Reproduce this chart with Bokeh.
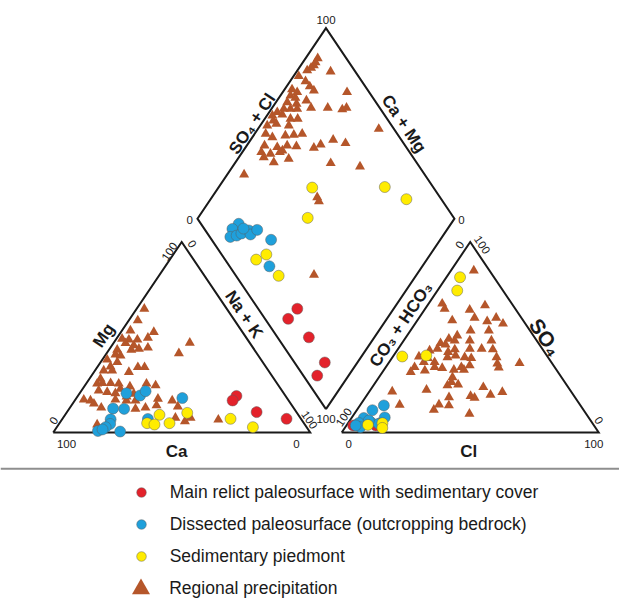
import math
from bokeh.plotting import figure
from bokeh.models import Range1d, Span, Legend, LegendItem
from bokeh.core.properties import value
from bokeh.embed import file_html
from bokeh.resources import INLINE

# ---------------- data (percent of meq) ----------------
# Regional precipitation
reg_cat_mg = [64.9, 58.8, 53.5, 52.7, 49.2, 48.7, 48.7, 49.7, 46.9, 45.7, 43.4, 43.9, 44.5, 47.1, 41.6,
              43.4, 40.9, 40.4, 38.2, 36.9, 34.6, 32.5, 32.5, 31.7, 34.3, 34.3, 28.2, 25.6, 25.9, 25.9,
              25.6, 22.9, 24.1, 25.6, 24.7, 22.0, 21.2, 20.6, 18.9, 20.3, 17.2, 16.8, 15.1, 13.0, 17.2,
              16.8, 16.8, 17.7, 13.0, 16.8, 13.6, 12.4, 4.2, 14.2, 7.7, 5.9, 7.7, 6.7]
reg_cat_nak = [3.0, 3.5, 3.3, 12.8, 2.2, 5.1, 8.4, 12.0, 4.7, 8.5, 8.7, 11.4, 14.6, 29.6, 28.1,
               3.2, 3.8, 6.0, 1.9, 6.5, 5.0, 3.4, 6.7, 13.6, 15.8, 18.4, 4.3, 4.3, 6.2, 9.4,
               12.7, 14.7, 17.8, 23.5, 27.5, 6.7, 10.4, 13.9, 19.1, 21.2, 3.3, 6.1, 8.3, 12.2, 15.6,
               20.1, 23.6, 31.9, 29.4, 37.9, 41.7, 25.8, 15.0, 33.1, 43.7, 48.3, 49.6, 60.9]
reg_dia_so4cl = [88.9, 87.0, 85.5, 83.8, 81.6, 90.4, 76.8, 78.1, 78.4, 78.9, 70.7, 72.0, 68.5, 69.8, 91.4,
                 65.5, 68.7, 73.4, 62.4, 65.0, 67.6, 73.3, 79.8, 85.0, 87.1, 59.0, 56.2, 60.3, 55.3, 62.4,
                 65.2, 51.6, 55.6, 60.0, 48.8, 50.5, 56.0, 59.5, 63.0, 94.1, 45.3, 49.8, 50.9, 54.1, 57.5,
                 63.9, 67.4, 73.5, 77.4, 42.3, 45.4, 41.9, 49.5, 51.2, 44.5, 66.4, 76.9, 29.7, 52.2, 51.8,
                 30.6]
reg_dia_nak = [4.7, 4.9, 5.1, 4.6, 3.8, 13.2, 2.0, 6.0, 9.0, 11.7, 2.9, 5.6, 3.9, 6.4, 25.0,
               4.4, 8.4, 11.4, 4.8, 7.4, 10.0, 15.1, 21.6, 27.7, 28.9, 3.1, 2.1, 5.7, 3.8, 10.0,
               12.8, 2.7, 5.8, 11.1, 4.3, 7.8, 12.4, 15.5, 18.5, 47.0, 6.9, 12.3, 15.2, 15.7, 19.5,
               26.7, 28.5, 32.1, 37.8, 7.4, 11.4, 9.7, 14.6, 19.8, 14.9, 37.3, 49.6, 6.6, 41.0, 42.7,
               60.1]
reg_an_so4 = [85.0, 67.6, 64.9, 64.4, 66.7, 60.2, 58.8, 58.4, 60.2, 57.1, 53.5, 53.5, 50.9, 49.2, 48.3,
              46.9, 46.2, 48.3, 48.3, 43.9, 43.0, 42.2, 43.6, 43.9, 43.9, 43.6, 39.9, 39.0, 39.5, 40.4,
              39.5, 39.0, 39.5, 36.9, 34.3, 36.9, 34.3, 33.8, 34.3, 35.2, 36.1, 34.0, 36.4, 31.7, 32.5,
              32.9, 32.9, 29.0, 26.4, 24.7, 25.2, 23.8, 21.5, 22.4, 18.5, 19.1, 18.2, 19.8, 21.2, 14.5,
              14.7, 14.2, 9.8, 11.9]
reg_an_cl = [8.9, 5.3, 7.6, 17.6, 22.4, 21.6, 13.6, 27.4, 30.0, 34.2, 23.4, 30.5, 19.5, 17.1, 19.8,
             15.0, 17.3, 25.7, 34.1, 15.3, 12.7, 20.3, 22.2, 27.9, 32.5, 37.0, 10.1, 14.0, 21.4, 24.1,
             28.1, 30.9, 40.5, 13.5, 11.2, 17.7, 19.0, 22.2, 29.4, 32.2, 42.5, 44.1, 51.0, 11.0, 16.1,
             27.2, 31.1, 28.6, 29.5, 28.8, 32.7, 43.2, 8.9, 21.8, 32.5, 40.6, 42.6, 48.0, 51.9, 15.3,
             30.5, 34.6, 44.8, 29.9]

# Main relict paleosurface with sedimentary cover
red_cat_mg = [19.2, 16.8, 10.7, 7.2]
red_cat_nak = [61.7, 61.4, 73.8, 87.2]
red_dia_so4cl = [15.2, 9.0, 12.2, 11.8, 5.4]
red_dia_nak = [62.5, 61.6, 74.5, 87.3, 87.8]
red_an_so4 = [3.7, 3.7, 4.9]
red_an_cl = [2.6, 11.4, 12.7]

# Dissected paleosurface (outcropping bedrock)
blue_cat_mg = [20.6, 19.4, 21.7, 18.1, 12.6, 12.4, 6.9, 7.1, 4.5, 2.8, 0.8, 0.5, 1.6]
blue_cat_nak = [18.2, 24.1, 25.1, 41.2, 17.0, 21.4, 18.9, 33.3, 19.9, 19.0, 17.0, 25.8, 18.4]
blue_dia_so4cl = [14.7, 10.9, 8.0, 10.8, 13.2, 16.9, 16.5, 20.3, 23.1, 15.5, 15.3]
blue_dia_nak = [17.4, 16.3, 17.6, 19.7, 21.0, 23.1, 24.8, 26.2, 34.2, 40.5, 20.5]
blue_an_so4 = [14.2, 11.7, 7.9, 7.6, 5.0, 5.5, 4.6, 2.8, 6.3, 3.7]
blue_an_cl = [9.3, 6.1, 12.8, 4.8, 4.2, 8.5, 12.1, 5.9, 7.4, 3.6]

# Sedimentary piedmont
yel_cat_mg = [9.3, 10.3, 4.9, 4.2, 4.9, 7.2, 2.8]
yel_cat_nak = [36.7, 47.0, 34.1, 37.3, 42.8, 65.4, 76.3]
yel_dia_so4cl = [52.8, 81.2, 86.4, 43.1, 12.1, 17.4, 16.6]
yel_dia_nak = [36.5, 64.6, 76.2, 42.7, 33.6, 36.2, 46.6]
yel_an_so4 = [81.5, 74.5, 39.9, 40.4, 4.0, 4.9, 2.4]
yel_an_cl = [5.3, 7.7, 3.6, 12.7, 8.2, 13.4, 14.6]

legend_labels = ["Main relict paleosurface with sedimentary cover",
                 "Dissected paleosurface (outcropping bedrock)",
                 "Sedimentary piedmont",
                 "Regional precipitation"]

# ---------------- geometry ----------------
H = math.sqrt(3) / 2
G = 0.1226                      # gap between triangles (in side units)
X0_PX, BASE_PX, SIDE_PX, HEIGHT_PX = 52.7, 432.0, 257.0, 190.5
W, HT = 619, 600
ORG = 0                         # page offset of the figure


def to_data(px, py):
    return (px - X0_PX) / SIDE_PX, (BASE_PX - py) * H / HEIGHT_PX


x_lo, y_hi = to_data(ORG, ORG)
x_hi, y_lo = to_data(ORG + W, ORG + HT)

LX, LY = 0.5 + G / 2, H + G * H   # diamond left vertex


def cation_xy(mg, nak):
    return [n / 100 + 0.5 * m / 100 for m, n in zip(mg, nak)], [H * m / 100 for m in mg]


def anion_xy(so4, cl):
    return [1 + G + c / 100 + 0.5 * s / 100 for s, c in zip(so4, cl)], [H * s / 100 for s in so4]


def diamond_xy(s4c, nak):
    xs = [LX + 0.5 * s / 100 + 0.5 * n / 100 for s, n in zip(s4c, nak)]
    ys = [LY + H * s / 100 - H * n / 100 for s, n in zip(s4c, nak)]
    return xs, ys


def all_xy(cmg, cnak, ds, dn, aso4, acl):
    x1, y1 = cation_xy(cmg, cnak)
    x2, y2 = diamond_xy(ds, dn)
    x3, y3 = anion_xy(aso4, acl)
    return x1 + x2 + x3, y1 + y2 + y3


p = figure(width=W, height=HT, x_range=Range1d(x_lo, x_hi), y_range=Range1d(y_lo, y_hi),
           output_backend="svg", toolbar_location=None, min_border=0,
           x_axis_type=None, y_axis_type=None)
p.outline_line_color = None
p.background_fill_color = "white"
p.border_fill_color = "white"

FONT_NAME = "Liberation Sans"
FONT = value(FONT_NAME)
LINE = dict(line_color="#1a1a1a", line_width=2, line_join="miter")

# frames
p.line([0, 1, 0.5, 0], [0, 0, H, 0], **LINE)
p.line([1 + G, 2 + G, 1.5 + G, 1 + G], [0, 0, H, 0], **LINE)
p.line([1 + G / 2, 1.5 + G / 2, 1 + G / 2, 0.5 + G / 2, 1 + G / 2],
       [G * H, H + G * H, 2 * H + G * H, H + G * H, G * H], **LINE)

# separator
sep_y = to_data(0, 468.3)[1]
p.add_layout(Span(location=sep_y, dimension="width", line_color="#8e8e8e", line_width=2))

# points
CIRC = dict(marker="circle", size=11, line_color="#5a5a5a", line_width=0.6, line_alpha=0.8)
xr, yr = all_xy(reg_cat_mg, reg_cat_nak, reg_dia_so4cl, reg_dia_nak, reg_an_so4, reg_an_cl)
r_reg = p.scatter(xr, yr, marker="triangle", size=10, fill_color="#B5562A", line_color=None)
xr, yr = all_xy(red_cat_mg, red_cat_nak, red_dia_so4cl, red_dia_nak, red_an_so4, red_an_cl)
r_red = p.scatter(xr, yr, fill_color="#E3222B", **CIRC)
xr, yr = all_xy(blue_cat_mg, blue_cat_nak, blue_dia_so4cl, blue_dia_nak, blue_an_so4, blue_an_cl)
r_blue = p.scatter(xr, yr, fill_color="#1FA0DB", **CIRC)
xr, yr = all_xy(yel_cat_mg, yel_cat_nak, yel_dia_so4cl, yel_dia_nak, yel_an_so4, yel_an_cl)
r_yel = p.scatter(xr, yr, fill_color="#FFEC00", **CIRC)


def label(txt, px, py, angle=0.0, size="11.5px", bold=False):
    x, y = to_data(px, py)
    p.text([x], [y], text=[txt], angle=angle, angle_units="deg", text_align="center",
           text_baseline="middle", text_font=FONT, text_font_size=size,
           text_font_style="bold" if bold else "normal", text_color="#1a1a1a")


A = 56.0
# tick labels
label("100", 325.5, 19.5)
label("0", 189.3, 219.0)
label("0", 461.0, 219.0)
label("100", 325.5, 418.5)
label("100", 66.0, 443.0)
label("0", 296.0, 443.0)
label("0", 53.3, 420.0, A)
label("100", 169.0, 251.0, A)
label("0", 191.7, 243.3, -A)
label("100", 309.0, 419.5, -A)
label("0", 348.3, 443.3)
label("100", 593.3, 443.3)
label("100", 343.3, 416.7, A)
label("0", 459.3, 244.3, A)
label("100", 481.7, 244.3, -A)
label("0", 598.3, 420.0, -A)

# axis titles
label("Mg", 103.3, 335.0, A, "17px", True)
label("Ca", 176.0, 451.0, 0, "17px", True)
label("Na + K", 243.5, 314.0, -A, "17px", True)
label("SO\u2084 + Cl", 251.7, 123.3, A, "17px", True)
label("Ca + Mg", 403.3, 123.3, -A, "17px", True)
label("CO\u2083 + HCO\u2083", 400.5, 324.0, A, "17px", True)
label("Cl", 468.3, 451.0, 0, "17px", True)
label("SO\u2084", 545.0, 336.7, -A, "21px", True)

# legends (location = bottom-left corner, screen px from the frame's bottom-left)
LEG = dict(padding=0, margin=0, border_line_color=None, background_fill_alpha=0,
           label_text_font=FONT_NAME, label_text_font_size="17.5px", label_text_color="#1a1a1a",
           orientation="vertical")
leg1 = Legend(items=[LegendItem(label=legend_labels[0], renderers=[r_red]),
                     LegendItem(label=legend_labels[1], renderers=[r_blue]),
                     LegendItem(label=legend_labels[2], renderers=[r_yel])],
              location=(128.7 - ORG, ORG + HT - 569.3), glyph_width=24, glyph_height=26,
              label_height=26, spacing=6, label_standoff=17, **LEG)
leg2 = Legend(items=[LegendItem(label=legend_labels[3], renderers=[r_reg])],
              location=(118.2 - ORG, ORG + HT - 610.5), glyph_width=45, glyph_height=45,
              label_height=45, spacing=0, label_standoff=6, **LEG)
p.add_layout(leg1)
p.add_layout(leg2)

open("out.html", "w").write(file_html(p, INLINE))
